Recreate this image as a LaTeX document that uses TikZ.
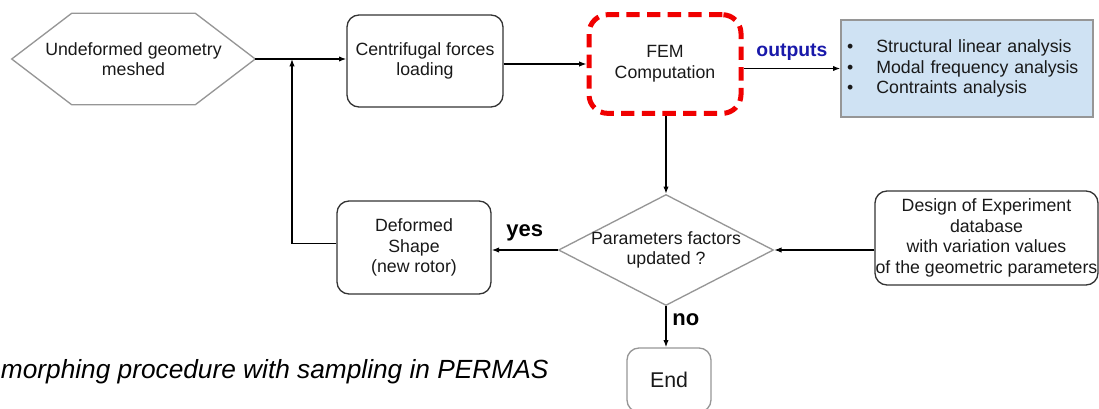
\documentclass[tikz,border=0pt]{standalone}
\usepackage{fontspec}
\setmainfont{Liberation Sans}
\usetikzlibrary{shapes.geometric,arrows.meta}

\definecolor{boxline}{RGB}{51,51,51}
\definecolor{softline}{RGB}{150,150,150}
\definecolor{femred}{RGB}{240,0,0}
\definecolor{outfill}{RGB}{207,226,243}
\definecolor{outblue}{RGB}{25,25,170}

\tikzstyle{txt}=[align=center, font=\fontsize{13.3}{15.5}\selectfont, text=black!90]
\tikzstyle{procbox}=[txt, draw=boxline, line width=1pt, rounded corners=9pt]
\tikzstyle{softbox}=[txt, draw=softline, line width=1pt, rounded corners=9pt]
\tikzstyle{fembox}=[txt, draw=femred, line width=3.75pt, dash pattern=on 10pt off 5.5pt, rounded corners=14pt, minimum width=114pt, minimum height=74pt]
\tikzstyle{decision}=[txt, diamond, aspect=1.94, inner sep=-2pt, draw=softline, line width=1pt, minimum width=161.25pt, minimum height=83.25pt]
\tikzstyle{outbox}=[txt, align=left, draw=softline, fill=outfill, line width=1pt, text width=180pt, inner xsep=4.5pt, minimum height=72.75pt]
\tikzstyle{arrow}=[line width=0.9pt, -{Latex[length=5.5pt,width=4pt]}]
\tikzstyle{branch}=[font=\bfseries\fontsize{16.5}{18}\selectfont]

\begin{document}
\begin{tikzpicture}[x=0.75pt, y=-0.75pt]
  \useasboundingbox (0,0) rectangle (1099,408);

  % top row
  \node[txt, minimum width=182.25pt, minimum height=68.25pt] (geom) at (133.5,59) {Undeformed geometry\\meshed};
  \draw[softline, line width=1pt] (geom.west) -- ([xshift=45pt]geom.north west) -- ([xshift=-45pt]geom.north east)
    -- (geom.east) -- ([xshift=-45pt]geom.south east) -- ([xshift=45pt]geom.south west) -- cycle;
  \node[procbox, minimum width=117pt, minimum height=69pt] (load) at (425,61) {Centrifugal forces\\loading};
  \node[fembox] (fem) at (665,64) {FEM\\Computation};
  \node[outbox] (out) at (967,68.5) {\makebox[22pt][l]{\textbullet}Structural linear analysis\\
    \makebox[22pt][l]{\textbullet}Modal frequency analysis\\
    \makebox[22pt][l]{\textbullet}Contraints analysis};

  % bottom row
  \node[decision] (dec) at (666,250) {Parameters factors\\updated ?};
  \node[procbox, minimum width=167.25pt, minimum height=70.5pt, inner sep=0pt] (doe) at (986.5,238)
    {Design of Experiment\\database\\with variation values\\of the geometric parameters};
  \node[procbox, minimum width=115.5pt, minimum height=69.75pt] (def) at (414,247.5) {Deformed\\Shape\\(new rotor)};
  \node[softbox, minimum width=63pt, minimum height=48pt, font=\fontsize{16}{19}\selectfont] (end) at (669,380) {End};
  \node[anchor=base west, inner xsep=0.5pt, font=\itshape\fontsize{19.7}{23}\selectfont] (caption) at (0,378) {morphing procedure with sampling in PERMAS};

  \coordinate (join) at (292,59);

  \draw[arrow] (geom.east) -- (geom.east -| load.west);
  \draw[arrow] (load.east |- fem.west) -- (fem.west);
  \draw[arrow] (fem.east |- out.west) -- node[above=2pt, font=\bfseries\fontsize{14.5}{16}\selectfont, text=outblue] (outlbl) {outputs} (out.west);
  \draw[arrow] (fem.south -| dec.north) -- (dec.north);
  \draw[arrow] (doe.west |- dec.east) -- (dec.east);
  \draw[arrow] (dec.west) -- node[above=3pt, branch] (yeslbl) {yes} (def.east |- dec.west);
  \draw[arrow] (dec.south) -- node[pos=0.33, right=1pt, branch] (nolbl) {no} (dec.south |- end.north);
  \draw[arrow] ([yshift=3pt]def.west) -| (join);
\end{tikzpicture}
\end{document}
